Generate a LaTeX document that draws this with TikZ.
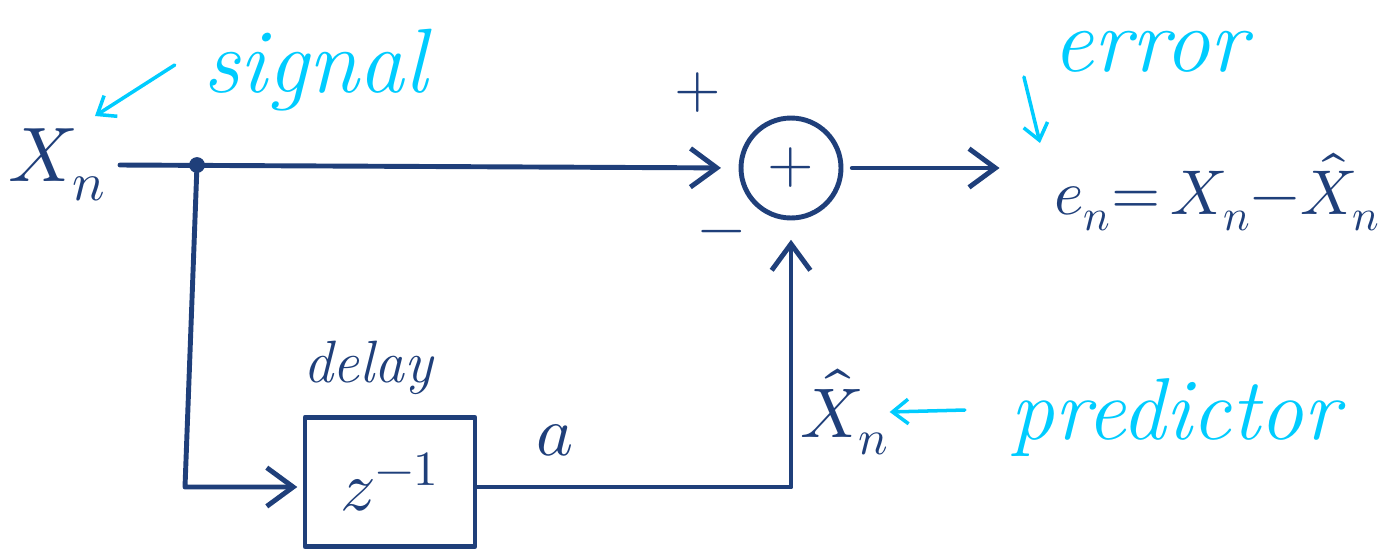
\documentclass[tikz,border=0pt]{standalone}
\usepackage{unicode-math}
\usetikzlibrary{arrows.meta,positioning,calc}
\definecolor{encre}{RGB}{31,63,122}
\definecolor{ciel}{RGB}{0,204,255}

\begin{document}
\begin{tikzpicture}[x=0.02cm,y=-0.02cm,
    trait/.style={draw=encre,line width=2.8pt,line cap=round,line join=round},
    fleche/.style={trait,-{Straight Barb[length=15pt,width=22pt]}},
    note/.style={draw=ciel,line width=2pt,line cap=round,
                 -{Straight Barb[length=9pt,width=14pt]}},
    encrier/.style={text=encre,inner sep=0pt},
    mot/.style={text=ciel,inner sep=0pt,font=\fontsize{52}{52}\selectfont\itshape}]
  \useasboundingbox (0,0) rectangle (1395,552);
  % labels
  \node[encrier,font=\fontsize{44}{44}\selectfont,anchor=west] (xn) at (8,165) {$X_n$};
  \node[mot] (signal) at (315,70) {signal};
  \node[mot] (error) at (1150,52) {error};
  \node[mot,font=\fontsize{50}{50}\selectfont\itshape] (pred) at (1175,418) {predictor};
  \node[encrier,font=\fontsize{36}{36}\selectfont,anchor=west] (en) at (1054,192)
    {$e_n{=}\,X_n{-}\hat{X}_n$};
  \node[encrier,font=\fontsize{40}{40}\selectfont] (xhat) at (845,412) {$\hat{X}_n$};
  \node[encrier,font=\fontsize{34}{34}\selectfont] (plus) at (698,93) {$+$};
  \node[encrier,font=\fontsize{34}{34}\selectfont] (moins) at (722,238) {$-$};
  \node[encrier,font=\fontsize{34}{34}\selectfont\itshape] (delai) at (368,368) {delay};
  \node[encrier,font=\fontsize{40}{40}\selectfont] (coef) at (555,440) {$a$};
  % blocks
  \node[trait,text=encre,circle,minimum size=2cm,inner sep=0pt,
        font=\fontsize{34}{34}\selectfont] (som) at (791,168) {$+$};
  \node[trait,text=encre,rectangle,minimum width=3.4cm,minimum height=2.58cm,
        font=\fontsize{40}{40}\selectfont] (retard) at (390,482) {$z^{-1}$};
  % connectors
  \coordinate (depart) at (120,165);
  \coordinate (noeud) at (197,165);
  \coordinate (coin) at (185,487);
  \coordinate (retour) at (791,487);
  \fill[encre] (noeud) circle (4.5pt);
  \draw[fleche,shorten >=10pt] (depart) -- (som.west);
  \draw[fleche,shorten >=3pt] (noeud) -- (coin) -- (retard.west |- coin);
  \draw[fleche,shorten >=11pt] (retard.east |- coin) -- (retour) -- (som.south);
  \draw[fleche,shorten <=5pt,shorten >=31pt] (som.east) -- (en.west |- som.east);
  % hints
  \draw[note] (signal.west) ++(-28,-5) -- (95,116);
  \draw[note] (error.west) ++(-28,25) -- (1040,143);
  \draw[note] (pred.west) ++(-45,-8) -- (xhat.east);
\end{tikzpicture}
\end{document}
